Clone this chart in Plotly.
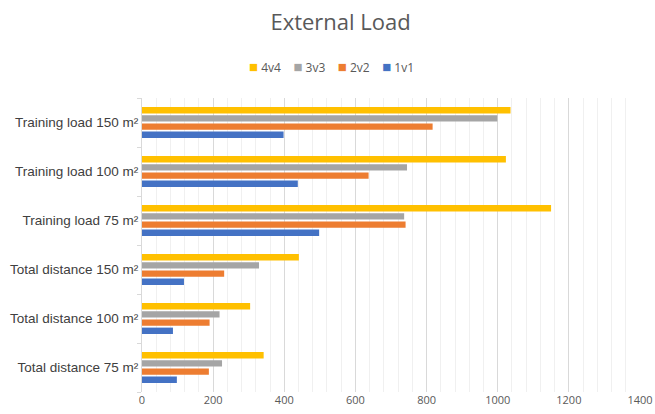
import plotly.graph_objects as go

categories = ["Total distance 75 m²", "Total distance 100 m²", "Total distance 150 m²",
              "Training load 75 m²", "Training load 100 m²", "Training load 150 m²"]
v1v1 = [98, 87, 118, 498, 438, 398]
v2v2 = [188, 190, 231, 741, 637, 817]
v3v3 = [225, 218, 329, 737, 745, 999]
v4v4 = [342, 304, 441, 1150, 1023, 1036]
x_ticks = [0, 200, 400, 600, 800, 1000, 1200, 1400]

series = [("1v1", v1v1, "#4472C4"), ("2v2", v2v2, "#ED7D31"),
          ("3v3", v3v3, "#A5A5A5"), ("4v4", v4v4, "#FFC000")]

fig = go.Figure()
for name, vals, col in series:
    fig.add_trace(go.Bar(y=categories, x=vals, name=name, orientation="h",
                         marker=dict(color=col, line=dict(width=0)), showlegend=False))

# compact Excel-style legend (4v4, 3v3, 2v2, 1v1)
legend_text = "&nbsp;&nbsp;&nbsp;&nbsp;".join(
    f"<span style='color:{col};font-size:15px'>■</span>&nbsp;{name}" for name, _, col in reversed(series))

W, L, R = 655, 142, 15
fig.add_annotation(text=legend_text, xref="paper", yref="paper",
                   x=(331 - L) / (W - L - R), y=1.11, xanchor="center", yanchor="middle",
                   showarrow=False, font=dict(family="Open Sans", size=12, color="#595959"))

fig.update_layout(
    width=W, height=414,
    margin=dict(l=L, r=R, t=98, b=22, autoexpand=False),
    paper_bgcolor="white", plot_bgcolor="white",
    barmode="group", bargap=0.33, bargroupgap=0.22,
    title=dict(text="External Load", x=0.52, xanchor="center", y=0.945, yanchor="middle",
               font=dict(family="Open Sans", size=22, color="#595959")),
    font=dict(family="Open Sans", color="#595959"),
)
fig.update_xaxes(range=[0, 1400], tickvals=x_ticks, showgrid=True, gridcolor="#D9D9D9",
                 gridwidth=1, zeroline=False, showline=False, automargin=False,
                 minor=dict(dtick=40, showgrid=True, gridcolor="#F0F0F0", gridwidth=1),
                 tickfont=dict(size=11, color="#595959"), ticks="")
fig.update_yaxes(showline=True, linecolor="#D9D9D9", linewidth=1, ticks="outside",
                 tickson="boundaries", ticklen=4, tickcolor="#D9D9D9", automargin=False,
                 tickfont=dict(family="Liberation Sans", size=13.5, color="#404040"), showgrid=False)

fig.write_html("out.html")
